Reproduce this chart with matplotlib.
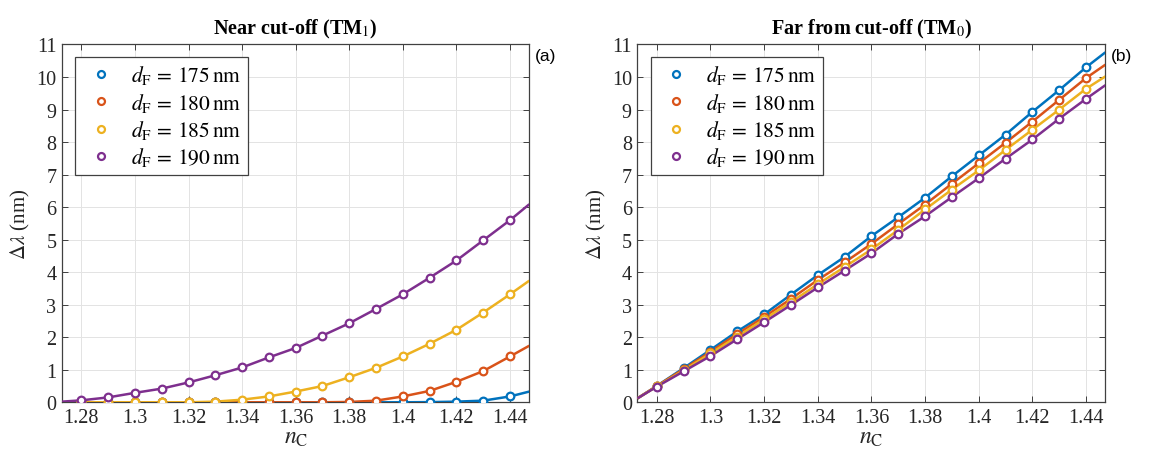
import matplotlib.pyplot as plt
from matplotlib.ticker import FormatStrFormatter, MultipleLocator
from matplotlib.lines import Line2D

# refractive index of the cover (marker positions)
n_c = [1.28, 1.29, 1.30, 1.31, 1.32, 1.33, 1.34, 1.35, 1.36,
       1.37, 1.38, 1.39, 1.40, 1.41, 1.42, 1.43, 1.44]
x_lo, x_hi = 1.2728, 1.4472

labels = ['175', '180', '185', '190']
colors = ['#0072BD', '#D95319', '#EDB120', '#7E2F8E']

# (a) near cut-off, TM1
tm1_175 = [0, 0, 0, 0, 0, 0, 0, 0, 0, 0, 0, 0, 0, 0.005, 0.02, 0.05, 0.18]
tm1_180 = [0, 0, 0, 0, 0, 0, 0, 0, 0, 0, 0.01, 0.05, 0.18, 0.35, 0.63, 0.96, 1.41]
tm1_185 = [0, 0, 0, 0, 0, 0.02, 0.08, 0.18, 0.33, 0.50, 0.77, 1.06, 1.41, 1.80, 2.23, 2.76, 3.32]
tm1_190 = [0.06, 0.15, 0.29, 0.42, 0.61, 0.83, 1.07, 1.38, 1.67, 2.05, 2.43, 2.87, 3.32, 3.83, 4.36, 4.98, 5.60]
tm1_start = [0, 0, 0, 0.02]
tm1_end = [0.33, 1.74, 3.74, 6.09]

# (b) far from cut-off, TM0
tm0_175 = [0.50, 1.05, 1.61, 2.18, 2.70, 3.31, 3.91, 4.47, 5.11, 5.69, 6.29, 6.95, 7.59, 8.23, 8.93, 9.60, 10.30]
tm0_180 = [0.50, 1.02, 1.55, 2.10, 2.62, 3.18, 3.76, 4.30, 4.87, 5.48, 6.08, 6.72, 7.35, 7.98, 8.63, 9.30, 9.97]
tm0_185 = [0.49, 0.98, 1.50, 2.02, 2.55, 3.08, 3.63, 4.16, 4.70, 5.30, 5.93, 6.54, 7.13, 7.76, 8.38, 9.00, 9.64]
tm0_190 = [0.48, 0.95, 1.42, 1.94, 2.46, 2.99, 3.53, 4.05, 4.58, 5.18, 5.72, 6.31, 6.89, 7.49, 8.08, 8.72, 9.33]
tm0_start = [0.12, 0.12, 0.12, 0.12]
tm0_end = [10.76, 10.38, 10.02, 9.75]

plt.rcParams['font.family'] = ['Liberation Serif', 'DejaVu Serif']
plt.rcParams['mathtext.fontset'] = 'stix'

fig = plt.figure(figsize=(11.51, 4.60), dpi=100)
ax1 = fig.add_axes([0.0539, 0.1233, 0.4060, 0.7778])
ax2 = fig.add_axes([0.5538, 0.1233, 0.4066, 0.7778])

panels = [
    (ax1, [tm1_175, tm1_180, tm1_185, tm1_190], tm1_start, tm1_end,
     r'Near cut-off (TM$_1$)', '(a)'),
    (ax2, [tm0_175, tm0_180, tm0_185, tm0_190], tm0_start, tm0_end,
     r'Far from cut-off (TM$_0$)', '(b)'),
]

for ax, series, starts, ends, title, tag in panels:
    for ys, y0, y1, c in zip(series, starts, ends, colors):
        ax.plot([x_lo] + n_c + [x_hi], [y0] + ys + [y1], color=c, lw=1.8,
                solid_capstyle='butt', zorder=3)
        ax.plot(n_c, ys, 'o', ms=5.5, mfc='white', mec=c, mew=1.6, zorder=4)

    ax.set_xlim(x_lo, x_hi)
    ax.set_ylim(0, 11)
    ax.xaxis.set_major_locator(MultipleLocator(0.02))
    ax.xaxis.set_major_formatter(FormatStrFormatter('%g'))
    ax.yaxis.set_major_locator(MultipleLocator(1))
    ax.tick_params(direction='in', length=4, width=0.6, top=True, right=True,
                   labelsize=14.5, colors='#262626', pad=4)
    ax.grid(True, color='#e3e3e3', lw=0.7)
    ax.set_axisbelow(True)
    for s in ax.spines.values():
        s.set_color('#404040')
        s.set_linewidth(0.9)
    ax.set_xlabel(r'$n_\mathrm{C}$', fontsize=17, color='#262626', labelpad=0)
    ax.set_ylabel(r'$\Delta\lambda$ (nm)', fontsize=15, color='#262626', labelpad=3)
    ax.set_title(title, fontsize=14.5, fontweight='bold', pad=8)
    ax.text(1.012, 0.97, tag, transform=ax.transAxes, fontsize=12.5,
            family='Liberation Sans', va='center', ha='left')

    handles = [Line2D([], [], ls='none', marker='o', ms=5, mfc='white',
                      mec=c, mew=1.6) for c in colors]
    texts = [r'$d_\mathrm{F}\,=\,%s\,\mathrm{nm}$' % l for l in labels]
    leg = ax.legend(handles, texts, loc='upper left', bbox_to_anchor=(0.028, 0.965),
                    fontsize=15.5, frameon=True, fancybox=False, framealpha=1,
                    edgecolor='#404040', borderpad=0.3, labelspacing=0.2,
                    handlelength=1.8, handletextpad=0.5, borderaxespad=0)
    leg.get_frame().set_linewidth(0.9)

fig.savefig('out.png', dpi=100)
